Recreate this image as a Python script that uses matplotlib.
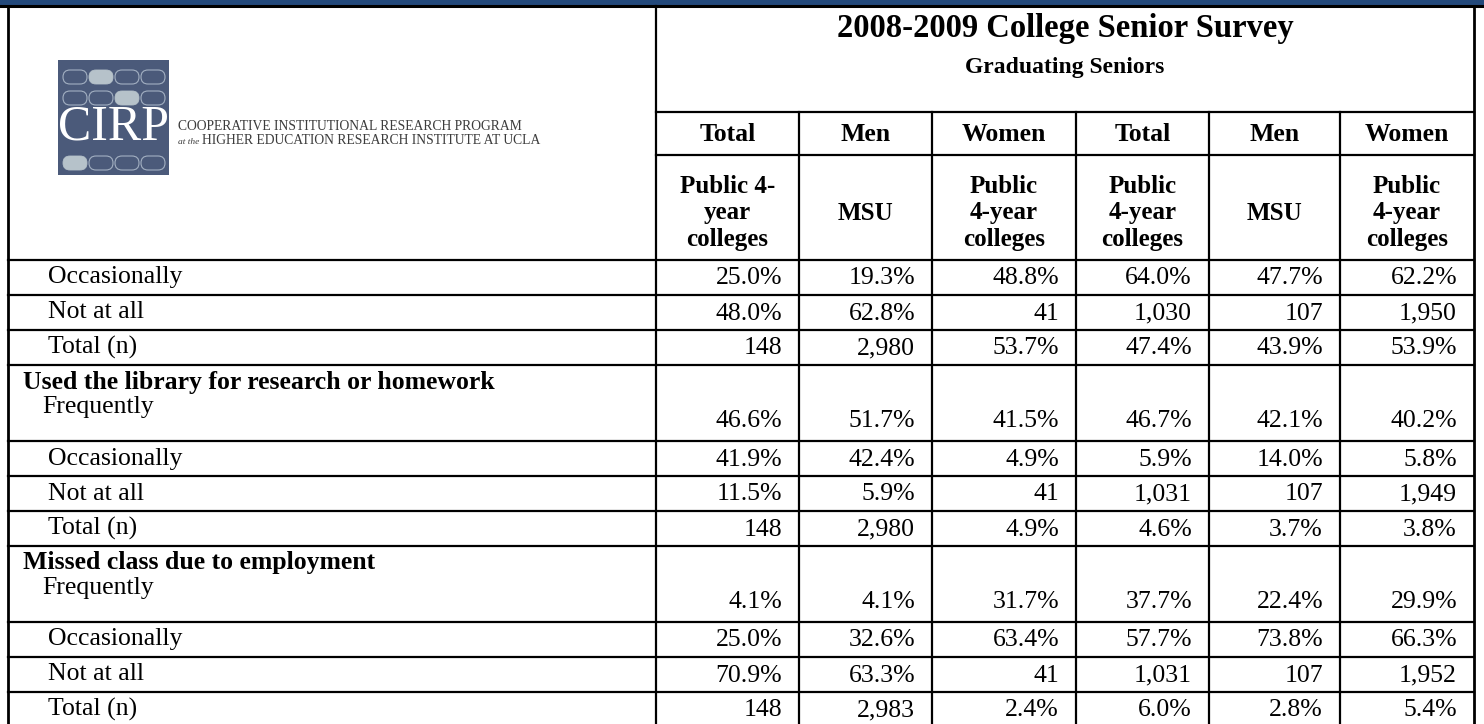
import matplotlib
matplotlib.use('Agg')
import matplotlib.pyplot as plt
from matplotlib.patches import Rectangle, FancyBboxPatch

plt.rcParams['font.family'] = ['Liberation Serif', 'DejaVu Serif']

# --- data ---
title = '2008-2009 College Senior Survey'
subtitle = 'Graduating Seniors'
col_heads = ['Total', 'Men', 'Women', 'Total', 'Men', 'Women']
col_subs = ['Public 4-\nyear\ncolleges', 'MSU', 'Public\n4-year\ncolleges',
            'Public\n4-year\ncolleges', 'MSU', 'Public\n4-year\ncolleges']

groups = ['', 'Used the library for research or homework', 'Missed class due to employment']

row_labels = ['Occasionally', 'Not at all', 'Total (n)',
              'Frequently', 'Occasionally', 'Not at all', 'Total (n)',
              'Frequently', 'Occasionally', 'Not at all', 'Total (n)']
row_group = [0, 0, 0, 1, 1, 1, 1, 2, 2, 2, 2]

values = [
    ['25.0%', '19.3%', '48.8%', '64.0%', '47.7%', '62.2%'],
    ['48.0%', '62.8%', '41', '1,030', '107', '1,950'],
    ['148', '2,980', '53.7%', '47.4%', '43.9%', '53.9%'],
    ['46.6%', '51.7%', '41.5%', '46.7%', '42.1%', '40.2%'],
    ['41.9%', '42.4%', '4.9%', '5.9%', '14.0%', '5.8%'],
    ['11.5%', '5.9%', '41', '1,031', '107', '1,949'],
    ['148', '2,980', '4.9%', '4.6%', '3.7%', '3.8%'],
    ['4.1%', '4.1%', '31.7%', '37.7%', '22.4%', '29.9%'],
    ['25.0%', '32.6%', '63.4%', '57.7%', '73.8%', '66.3%'],
    ['70.9%', '63.3%', '41', '1,031', '107', '1,952'],
    ['148', '2,983', '2.4%', '6.0%', '2.8%', '5.4%'],
]

# --- layout (pixels) ---
W, H = 1484, 724
left, right = 8, 1474
xcols = [656, 799, 932, 1076, 1209, 1340, 1474]
y_top = 6
y_title = 112
y_head = 155
y_sub = 260
h_single = 35
h_double = 76
fs = 18.5
lw = 1.6

fig = plt.figure(figsize=(W / 100, H / 100), dpi=100)
ax = fig.add_axes([0, 0, 1, 1])
ax.set_xlim(0, W)
ax.set_ylim(H, 0)
ax.axis('off')

# blue bar on top
ax.add_patch(Rectangle((0, 0), W, 5.5, color='#23497b', lw=0))

# logo
ax.add_patch(Rectangle((58, 60), 111, 115, color='#4b5a7a', lw=0))
pill_x = [63, 89, 115, 141]
pill_y = [70, 91, 156]
filled = [(0, 1), (1, 2), (2, 0)]
for r, py in enumerate(pill_y):
    for c, px in enumerate(pill_x):
        if (r, c) in filled:
            ax.add_patch(FancyBboxPatch((px, py), 24, 14, boxstyle='round,pad=0,rounding_size=7',
                                        fc='#b6c2ca', ec='#b6c2ca', lw=0.6))
        else:
            ax.add_patch(FancyBboxPatch((px, py), 24, 14, boxstyle='round,pad=0,rounding_size=7',
                                        fc='none', ec='#a3b0c2', lw=0.8))
ax.text(113.5, 127, 'CIRP', color='white', fontsize=36, ha='center', va='center')
ax.text(178, 126, 'COOPERATIVE INSTITUTIONAL RESEARCH PROGRAM', color='#3c3c3c',
        fontsize=9.8, ha='left', va='center')
ax.text(178, 141.5, 'at the', color='#3c3c3c', fontsize=6.8, style='italic', ha='left', va='center')
ax.text(202, 141, 'HIGHER EDUCATION RESEARCH INSTITUTE AT UCLA', color='#3c3c3c',
        fontsize=9.8, ha='left', va='center')

# title block
xmid = (xcols[0] + xcols[-1]) / 2
ax.text(xmid, 29, title, fontsize=23.5, fontweight='bold', ha='center', va='center')
ax.text(xmid, 67, subtitle, fontsize=17, fontweight='bold', ha='center', va='center')

for i in range(6):
    xc = (xcols[i] + xcols[i + 1]) / 2
    ax.text(xc, (y_title + y_head) / 2 + 1, col_heads[i], fontsize=18.5, fontweight='bold',
            ha='center', va='center')
    ax.text(xc, 213, col_subs[i], fontsize=18, fontweight='bold', ha='center', va='center',
            linespacing=1.2)

# body rows
y = y_sub
row_edges = [y]
for k in range(len(row_labels)):
    double = row_group[k] > 0 and row_labels[k] == 'Frequently'
    h = h_double if double else h_single
    if double:
        ax.text(left + 15, y + 17, groups[row_group[k]], fontsize=fs, fontweight='bold',
                ha='left', va='center')
        ax.text(left + 34, y + 42, row_labels[k], fontsize=fs, ha='left', va='center')
        yv = y + 56
    else:
        ax.text(left + 40, y + h / 2, row_labels[k], fontsize=fs, ha='left', va='center')
        yv = y + h / 2 + 1
    for i in range(6):
        ax.text(xcols[i + 1] - 17, yv, values[k][i], fontsize=fs, ha='right', va='center')
    y = y + h
    row_edges.append(y)

# grid lines
ax.plot([0, W], [y_top, y_top], color='black', lw=lw + 0.6)
ax.plot([left, left], [y_top, H], color='black', lw=lw + 0.4)
ax.plot([right, right], [y_top, H], color='black', lw=lw + 0.4)
ax.plot([xcols[0], xcols[0]], [y_top, H], color='black', lw=lw)
for xc in xcols[1:-1]:
    ax.plot([xc, xc], [y_title, H], color='black', lw=lw)
ax.plot([xcols[0], right], [y_title, y_title], color='black', lw=lw)
ax.plot([xcols[0], right], [y_head, y_head], color='black', lw=lw)
for ye in row_edges:
    ax.plot([left, right], [ye, ye], color='black', lw=lw)

fig.savefig('out.png', dpi=100)
